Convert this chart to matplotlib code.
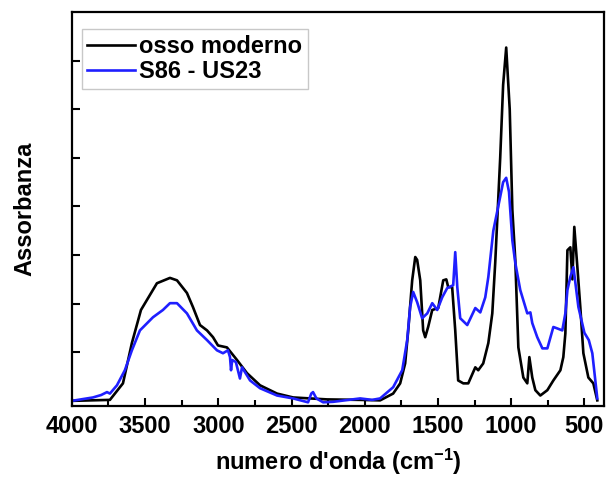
import numpy as np
import matplotlib
matplotlib.use("Agg")
import matplotlib.pyplot as plt
from matplotlib.ticker import MultipleLocator

plt.rcParams['font.family'] = ['Liberation Sans', 'DejaVu Sans']
plt.rcParams['mathtext.default'] = 'regular'

# osso moderno (black)
wn_osso = [4000, 3740, 3651, 3590, 3528, 3419, 3330, 3282, 3214, 3173, 3125, 3077, 3036,
           3002, 2941, 2872, 2804, 2715, 2599, 2489, 2257, 2031, 1895, 1806, 1758, 1724,
           1703, 1676, 1655, 1642, 1621, 1601, 1587, 1567, 1539, 1498, 1464, 1443, 1430,
           1403, 1382, 1362, 1327, 1293, 1245, 1225, 1191, 1156, 1129, 1109, 1075, 1055,
           1034, 1010, 992, 972, 951, 917, 890, 876, 856, 835, 801, 753, 712, 664, 644,
           630, 616, 596, 582, 569, 548, 528, 507, 473, 439, 412]
ab_osso = [0.0, 0.02, 0.36, 1.19, 1.87, 2.42, 2.53, 2.48, 2.22, 1.93, 1.56, 1.45, 1.31,
           1.14, 1.10, 0.84, 0.57, 0.32, 0.15, 0.07, 0.03, 0.02, 0.01, 0.15, 0.36, 0.77,
           1.45, 2.48, 2.96, 2.90, 2.48, 1.45, 1.31, 1.52, 1.87, 1.91, 2.48, 2.50, 2.34,
           2.34, 1.45, 0.42, 0.36, 0.36, 0.69, 0.63, 0.77, 1.19, 1.80, 2.84, 5.0, 6.5,
           7.27, 6.0, 3.93, 2.90, 1.10, 0.48, 0.36, 0.90, 0.48, 0.22, 0.11, 0.22, 0.42,
           0.63, 0.90, 1.39, 3.10, 3.16, 2.50, 3.58, 2.75, 1.93, 0.98, 0.48, 0.36, 0.01]

# S86 - US23 (blue)
wn_s86 = [4000, 3856, 3800, 3760, 3740, 3692, 3638, 3590, 3535, 3446, 3378, 3330, 3282,
          3214, 3146, 3077, 3009, 2968, 2934, 2920, 2913, 2905, 2880, 2852, 2838, 2783,
          2715, 2599, 2489, 2387, 2365, 2353, 2330, 2284, 2216, 2031, 1950, 1895, 1806,
          1744, 1710, 1690, 1669, 1642, 1608, 1573, 1539, 1505, 1471, 1437, 1396, 1382,
          1368, 1348, 1300, 1245, 1211, 1177, 1156, 1122, 1075, 1055, 1034, 1015, 992,
          972, 938, 890, 869, 856, 822, 787, 753, 712, 685, 651, 630, 616, 596, 575,
          541, 500, 470, 446, 412]
ab_s86 = [0.0, 0.07, 0.12, 0.18, 0.15, 0.32, 0.63, 1.04, 1.45, 1.72, 1.87, 2.01, 2.01,
          1.80, 1.45, 1.25, 1.04, 0.98, 1.04, 0.90, 0.63, 0.84, 0.80, 0.46, 0.69, 0.42,
          0.26, 0.11, 0.05, -0.03, 0.15, 0.18, 0.05, -0.03, -0.02, 0.05, 0.02, 0.05, 0.28,
          0.63, 1.25, 1.93, 2.24, 2.03, 1.70, 1.80, 2.01, 1.87, 2.13, 2.32, 2.38, 3.06,
          2.34, 1.70, 1.56, 1.91, 1.82, 2.13, 2.55, 3.50, 4.20, 4.50, 4.59, 4.30, 3.30,
          2.84, 2.28, 1.80, 1.82, 1.60, 1.31, 1.08, 1.08, 1.52, 1.49, 1.45, 1.80, 2.28,
          2.55, 2.75, 1.93, 1.40, 1.25, 0.98, 0.05]

fig = plt.figure(figsize=(6.14, 4.83), dpi=100)
ax = fig.add_axes([0.117, 0.159, 0.867, 0.816])

ax.plot(wn_osso, ab_osso, color='black', lw=1.9, label='osso moderno')
ax.plot(wn_s86, ab_s86, color='#1f1fff', lw=1.9, label='S86 - US23')

ax.set_xlim(4000, 365)
ax.set_ylim(-0.11, 8.0)
ax.xaxis.set_major_locator(MultipleLocator(500))
ax.xaxis.set_minor_locator(MultipleLocator(250))
ax.set_yticks(np.arange(1, 8))
ax.set_yticklabels([])
ax.tick_params(axis='both', which='major', direction='in', length=6, width=1.5,
               labelsize=17)
ax.tick_params(axis='x', which='minor', direction='in', length=4, width=1.5)
ax.tick_params(axis='x', pad=6)
for lbl in ax.get_xticklabels():
    lbl.set_fontweight('bold')
for sp in ax.spines.values():
    sp.set_linewidth(1.6)

ax.set_xlabel("numero d'onda (cm$^{-1}$)", fontsize=17, fontweight='bold', labelpad=7)
ax.set_ylabel("Assorbanza", fontsize=17, fontweight='bold', labelpad=22)

leg = ax.legend(loc='upper left', bbox_to_anchor=(0.005, 0.975), fancybox=False,
                prop={'weight': 'bold', 'size': 17}, handlelength=2.0,
                handletextpad=0.2, borderpad=0.25, labelspacing=0.1,
                borderaxespad=0.3)
leg.get_frame().set_edgecolor('#bbbbbb')
leg.get_frame().set_linewidth(1.0)

plt.savefig('out.png', dpi=100)
